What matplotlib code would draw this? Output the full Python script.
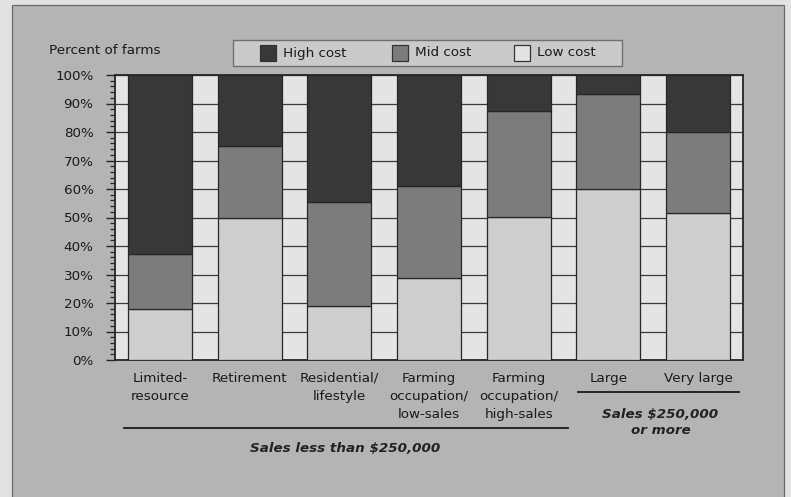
import matplotlib
matplotlib.use("Agg")
import matplotlib.pyplot as plt
import numpy as np
from matplotlib.patches import Rectangle
from matplotlib.lines import Line2D
from matplotlib.ticker import MultipleLocator, PercentFormatter
import matplotlib.transforms as mtrans

plt.rcParams['font.family'] = ['DejaVu Sans']

categories = ["Limited-\nresource", "Retirement", "Residential/\nlifestyle",
              "Farming\noccupation/\nlow-sales", "Farming\noccupation/\nhigh-sales",
              "Large", "Very large"]
low_cost = [18, 50, 19, 28.7, 50.3, 60, 51.6]
mid_cost = [19.2, 25.2, 36.5, 32.5, 37.2, 33.3, 28.5]
high_cost = [100 - l - m for l, m in zip(low_cost, mid_cost)]
series_names = ["High cost", "Mid cost", "Low cost"]
group1_label = "Sales less than $250,000"
group2_label = "Sales $250,000\nor more"

C_HIGH = "#383838"
C_MID = "#7c7c7c"
C_LOW = "#cecece"
C_GAP = "#e4e4e4"
C_PANEL = "#b4b4b4"
C_EDGE = "#262626"
FS = 9.7

W, H = 791, 497
fig = plt.figure(figsize=(W / 100, H / 100), dpi=100)
fig.patch.set_facecolor("#e2e2e2")

def fx(px):
    return px / W

def fy(py):
    return 1 - py / H

# panel
fig.patches.append(Rectangle((fx(12), fy(520)), fx(784) - fx(12), fy(5) - fy(520),
                             transform=fig.transFigure, facecolor=C_PANEL,
                             edgecolor="#6a6a6a", lw=0.9, zorder=-5))

ax = fig.add_axes([fx(115), fy(360), fx(743) - fx(115), fy(75) - fy(360)])
ax.set_zorder(2)
ax.set_facecolor(C_GAP)
x = np.arange(len(categories))
bw = 0.713
ax.bar(x, low_cost, bw, color=C_LOW, edgecolor=C_EDGE, lw=0.9, zorder=3)
ax.bar(x, mid_cost, bw, bottom=low_cost, color=C_MID, edgecolor=C_EDGE, lw=0.9, zorder=3)
ax.bar(x, high_cost, bw, bottom=np.array(low_cost) + np.array(mid_cost),
       color=C_HIGH, edgecolor=C_EDGE, lw=0.9, zorder=3)

ax.set_xlim(-0.5, len(categories) - 0.5)
ax.set_ylim(0, 100)
ax.yaxis.set_major_locator(MultipleLocator(10))
ax.yaxis.set_minor_locator(MultipleLocator(2))
ax.yaxis.set_major_formatter(PercentFormatter(decimals=0))
ax.yaxis.grid(True, which="major", color="#3a3a3a", lw=0.9, zorder=1)
ax.set_axisbelow(True)
ax.tick_params(axis="y", which="major", length=6.5, width=1.0, color=C_EDGE,
               pad=9, labelsize=FS, labelcolor="#1a1a1a")
ax.tick_params(axis="y", which="minor", length=3.5, width=0.9, color=C_EDGE)
ax.set_xticks(x, categories, fontsize=FS, color="#1a1a1a", linespacing=1.5)
ax.tick_params(axis="x", length=0, pad=8.5)
for s in ax.spines.values():
    s.set_color(C_EDGE)
    s.set_linewidth(1.3)

fig.text(fx(49), fy(51), "Percent of farms", fontsize=FS, ha="left", va="center",
         color="#1a1a1a")

# group annotations
tr = mtrans.blended_transform_factory(ax.transData, ax.transAxes)
def ay(py):
    return (360 - py) / 285

ax.add_line(Line2D([-0.4, 4.55], [ay(428), ay(428)], transform=tr, color="#1a1a1a",
                   lw=1.3, clip_on=False))
ax.add_line(Line2D([4.66, 6.46], [ay(392), ay(392)], transform=tr, color="#1a1a1a",
                   lw=1.3, clip_on=False))
ax.text(2.06, ay(449), group1_label, transform=tr, ha="center", va="center",
        fontsize=FS, fontweight="bold", fontstyle="italic", color="#222222")
ax.text(5.58, ay(422.5), group2_label, transform=tr, ha="center", va="center",
        fontsize=FS, fontweight="bold", fontstyle="italic", color="#222222",
        linespacing=1.4)

# legend box
fig.patches.append(Rectangle((fx(233), fy(66)), fx(622) - fx(233), fy(40) - fy(66),
                             transform=fig.transFigure, facecolor="#cacaca",
                             edgecolor="#707070", lw=1.0, zorder=1))
leg_x = [260, 392, 514]
leg_colors = [C_HIGH, C_MID, "#e2e2e2"]
for lx, name, c in zip(leg_x, series_names, leg_colors):
    fig.patches.append(Rectangle((fx(lx), fy(61)), fx(16), fy(45) - fy(61),
                                 transform=fig.transFigure, facecolor=c,
                                 edgecolor="#333333", lw=0.9, zorder=2))
    fig.text(fx(lx + 23), fy(53), name, fontsize=FS, ha="left", va="center",
             color="#1a1a1a", zorder=3)

fig.savefig("out.png", dpi=100, facecolor=fig.get_facecolor())
